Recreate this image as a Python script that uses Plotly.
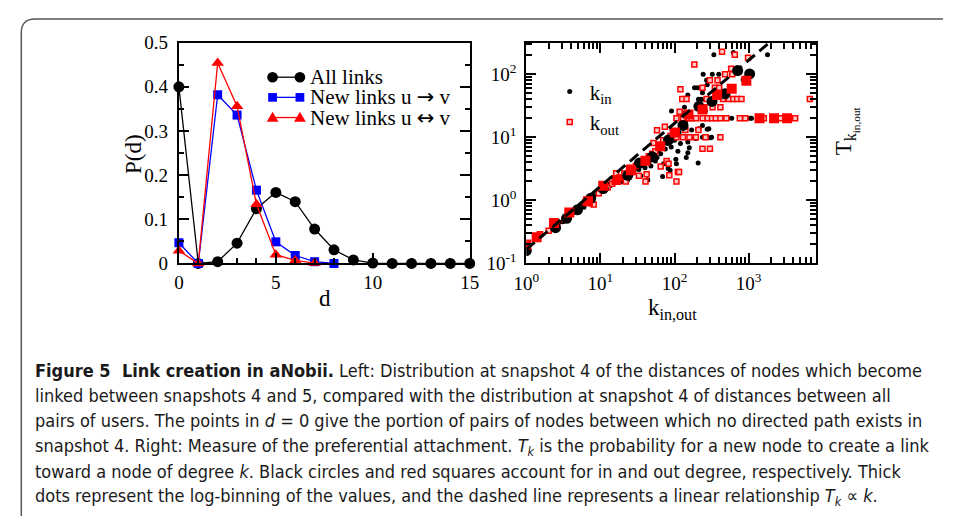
import plotly.graph_objects as go

W, H = 953, 527

# ---------------- Left panel data ----------------
d_all = list(range(16))
p_all = [0.400, 0.0, 0.004, 0.046, 0.124, 0.161, 0.140, 0.078, 0.031, 0.008, 0.001, 0.0, 0.0, 0.0, 0.0, 0.0]
d_dir = [0, 1, 2, 3, 4, 5, 6, 7, 8]
p_dir = [0.047, 0.0, 0.382, 0.336, 0.166, 0.049, 0.018, 0.004, 0.0]
d_bi = [0, 1, 2, 3, 4, 5, 6, 7]
p_bi = [0.029, 0.0, 0.454, 0.356, 0.134, 0.020, 0.007, 0.001]
ARROW = '<span style="font-family:DejaVu Sans">{}</span>'
left_names = ["All links", "New links u " + ARROW.format("\u2192") + " v",
              "New links u " + ARROW.format("\u2194") + " v"]

# ---------------- Right panel data ----------------
kin_k = [1.5, 2.0, 2.3, 2.8, 3.1, 3.8, 4.3, 5.5, 6.0, 6.9, 8.2, 9.3, 10.4, 11.5, 12.5, 13.5, 15.6, 17, 19, 20,
         23.3, 25, 28.5, 30, 33, 35, 38, 40, 42.7, 43.6, 45, 48, 50, 55, 58, 60, 65, 69, 71, 75,
         80, 82, 87, 90, 91, 95, 100, 104, 106, 111, 115, 120, 130, 132, 136, 140, 144, 151, 151, 151,
         158, 160, 170, 186, 186, 194, 200, 204, 204, 208, 210, 214, 230, 238, 238, 238, 243, 260, 270, 276,
         276, 276, 290, 300, 305, 316, 323, 339, 395, 480, 520, 590, 620, 842, 1050, 1090, 1795]
kin_T = [0.27, 0.32, 0.39, 0.45, 0.46, 0.58, 0.66, 0.83, 0.78, 0.93, 1.2, 1.35, 1.4, 1.6, 1.8, 1.7, 1.9, 2.2, 2.0, 2.4,
         2.1, 2.5, 3.0, 3.4, 3.1, 2.46, 3.6, 3.3, 2.1, 2.1, 4.0, 3.5, 5.5, 4.2, 4.8, 6.2, 5.5, 2.4, 3.8, 6.5,
         8.0, 3.2, 3.0, 7.0, 26, 10, 9.0, 4.5, 3.8, 6.0, 12, 8.0, 15, 24, 30, 18, 4.8, 5.7, 8.4, 47,
         6.8, 22, 13, 9.8, 61, 9.6, 30, 13.4, 61, 3.9, 40, 13.7, 40, 10, 15.4, 51, 100, 26, 80, 13.4,
         10, 68, 13.7, 20, 9.8, 10, 100, 204, 100, 20, 20, 20, 220, 82, 20, 20, 204]

kout_k = [1.53, 2.0, 2.6, 3.3, 4.2, 5.0, 6.3, 7.5, 8.1, 9.5, 11, 12.5, 14.4, 16.3, 18, 21, 22, 24.6, 27, 30,
          33, 36, 40.6, 42, 45, 50, 52, 55, 58, 62, 65, 70, 74, 78, 83, 85, 88, 95, 106, 106,
          106, 111, 115, 117, 120, 127, 130, 130, 140, 145, 155, 159, 170, 185, 194, 195, 204, 210, 238, 238,
          240, 251, 262, 270, 280, 300, 300, 320, 326, 340, 350, 360, 380, 400, 415, 415, 415, 437, 450, 480,
          500, 540, 580, 600, 620, 650, 700, 760, 800, 900, 980, 1600, 2700, 4240, 6680]
kout_T = [0.29, 0.33, 0.42, 0.50, 0.66, 0.75, 0.95, 0.90, 0.86, 1.3, 1.5, 1.6, 1.83, 2.7, 2.3, 2.67, 2.0, 3.3, 2.9, 3.5,
          2.46, 4.0, 2.0, 2.6, 5.0, 5.5, 8.1, 6.0, 12.9, 7.0, 3.45, 9.0, 14.7, 4.2, 3.8, 2.5, 10.5, 12, 2.0, 10,
          20, 2.83, 2.83, 25.4, 57.5, 40.6, 10, 20, 13, 40.6, 20, 10, 20, 143, 10, 20, 30, 13, 6.6, 61,
          20, 30, 10, 40.6, 20, 6.6, 80, 20, 30, 40.6, 61, 20, 80, 61, 10, 30, 20, 226, 40.6, 100,
          20, 40.6, 122, 100, 40.6, 204, 40.6, 20, 40.6, 20, 182, 20, 20, 20, 40.6]

bin_in_k = [1.0, 2.48, 3.5, 4.9, 7.4, 10.9, 23.4, 33.6, 50, 83, 130, 213, 320, 480, 710, 1030]
bin_in_T = [0.16, 0.37, 0.52, 0.71, 1.08, 1.54, 2.5, 3.9, 4.9, 9.1, 15.4, 31, 37, 49, 114, 101]
bin_out_k = [1.0, 1.38, 2.36, 3.8, 6.8, 10.9, 16.4, 25.7, 40.5, 64, 101, 154, 238, 375, 590, 930, 1400, 2200, 3300]
bin_out_T = [0.20, 0.26, 0.44, 0.64, 0.97, 1.71, 2.1, 3.0, 4.26, 7.2, 11.9, 23, 27.6, 46.7, 59, 79, 20, 20, 20]

lin_k = [1.0, 1800]
lin_T = [0.167, 300]

# tick labels
left_xticks = [0, 5, 10, 15]
left_yticks = [0, 0.1, 0.2, 0.3, 0.4, 0.5]
right_xticks = [1, 10, 100, 1000]
right_xlabels = ["10<sup>0</sup>", "10<sup>1</sup>", "10<sup>2</sup>", "10<sup>3</sup>"]
right_yticks = [0.1, 1, 10, 100]
right_ylabels = ["10<sup>-1</sup>", "10<sup>0</sup>", "10<sup>1</sup>", "10<sup>2</sup>"]

SERIF = "Liberation Serif"
fig = go.Figure()

fig.add_trace(go.Scatter(x=d_all, y=p_all, mode="lines+markers", name="All links", showlegend=False,
                         line=dict(color="black", width=1.3),
                         marker=dict(symbol="circle", size=11, color="black"),
                         xaxis="x", yaxis="y", cliponaxis=False))
fig.add_trace(go.Scatter(x=d_dir, y=p_dir, mode="lines+markers", name="New links u \u2192 v", showlegend=False,
                         line=dict(color="#0000ff", width=1.3),
                         marker=dict(symbol="square", size=9, color="#0000ff"),
                         xaxis="x", yaxis="y", cliponaxis=False))
fig.add_trace(go.Scatter(x=d_bi, y=p_bi, mode="lines+markers", name="New links u \u2194 v", showlegend=False,
                         line=dict(color="#ff0000", width=1.3),
                         marker=dict(symbol="triangle-up", size=11, color="#ff0000"),
                         xaxis="x", yaxis="y", cliponaxis=False))

# right panel
fig.add_trace(go.Scatter(x=kin_k, y=kin_T, mode="markers", name="k<sub>in</sub>",
                         marker=dict(symbol="circle", size=5, color="black"),
                         xaxis="x2", yaxis="y2", legend="legend2"))
fig.add_trace(go.Scatter(x=kout_k, y=kout_T, mode="markers", name="k<sub>out</sub>",
                         marker=dict(symbol="square", size=5, color="#ffc8c8",
                                     line=dict(color="#ff0000", width=1.5)),
                         xaxis="x2", yaxis="y2", legend="legend2"))
fig.add_trace(go.Scatter(x=bin_in_k, y=bin_in_T, mode="markers", showlegend=False,
                         marker=dict(symbol="circle", size=11, color="black"),
                         xaxis="x2", yaxis="y2"))
fig.add_trace(go.Scatter(x=bin_out_k, y=bin_out_T, mode="markers", showlegend=False,
                         marker=dict(symbol="square", size=10, color="#ff0000"),
                         xaxis="x2", yaxis="y2"))
fig.add_trace(go.Scatter(x=lin_k, y=lin_T, mode="lines", showlegend=False,
                         line=dict(color="black", width=3, dash="11px,6px"),
                         xaxis="x2", yaxis="y2"))


def px_x(p):
    return p / W


def px_y(p):
    return 1 - p / H


axis_common = dict(showline=True, linecolor="black", linewidth=2,
                   ticks="inside", tickcolor="black", tickwidth=1.5, ticklen=10,
                   showgrid=False, zeroline=False,
                   tickfont=dict(family=SERIF, size=19, color="black"))

fig.update_layout(
    width=W, height=H, margin=dict(l=0, r=0, t=0, b=0), autosize=False,
    paper_bgcolor="white", plot_bgcolor="white",
    xaxis=dict(domain=[px_x(170), px_x(468)], range=[0, 15], tickvals=left_xticks, mirror=True,
               minor=dict(dtick=1, tick0=0, ticks="inside", ticklen=5, tickcolor="black", tickwidth=1.5),
               anchor="y", ticklabelstandoff=1, **axis_common),
    yaxis=dict(domain=[px_y(264), px_y(34)], range=[0, 0.5], tickvals=left_yticks, mirror="ticks",
               minor=dict(dtick=0.05, tick0=0, ticks="inside", ticklen=5, tickcolor="black", tickwidth=1.5),
               anchor="x", ticklabelstandoff=5, **axis_common),
    xaxis2=dict(domain=[px_x(526), px_x(823)], type="log", range=[0, 3.91], mirror="ticks",
                tickvals=right_xticks, ticktext=right_xlabels,
                minor=dict(tickvals=[m * 10 ** e for e in range(0, 4) for m in range(2, 10)],
                           ticks="inside", ticklen=6, tickcolor="black", tickwidth=1.5),
                anchor="y2", ticklabelstandoff=2, **axis_common),
    yaxis2=dict(domain=[px_y(264), px_y(34)], type="log", range=[-1, 2.5], mirror="ticks",
                tickvals=right_yticks, ticktext=right_ylabels,
                minor=dict(tickvals=[m * 10 ** e for e in range(-1, 3) for m in range(2, 10)],
                           ticks="inside", ticklen=6, tickcolor="black", tickwidth=1.5),
                anchor="x2", ticklabelstandoff=4, **axis_common),
    legend2=dict(x=px_x(550), y=px_y(64), xanchor="left", yanchor="top",
                 bgcolor="rgba(0,0,0,0)", tracegroupgap=0, itemwidth=30,
                 font=dict(family=SERIF, size=21, color="black")),
    showlegend=True,
)

annotations = []
shapes = []
# custom legend for left panel (line with marker at both ends, like the original)
leg_rows = [70, 91, 112]
leg_colors = ["black", "#0000ff", "#ff0000"]
leg_symbols = ["circle", "square", "triangle"]
lx0, lx1 = 266, 294
for name, row, col, sym in zip(left_names, leg_rows, leg_colors, leg_symbols):
    shapes.append(dict(type="line", xref="paper", yref="paper", x0=px_x(lx0), x1=px_x(lx1),
                       y0=px_y(row), y1=px_y(row), line=dict(color=col, width=1.3)))
    for cx in (lx0, lx1):
        if sym == "circle":
            shapes.append(dict(type="circle", xref="paper", yref="paper", x0=px_x(cx - 5.5), x1=px_x(cx + 5.5),
                               y0=px_y(row + 5.5), y1=px_y(row - 5.5), fillcolor=col, line=dict(width=0)))
        elif sym == "square":
            shapes.append(dict(type="rect", xref="paper", yref="paper", x0=px_x(cx - 4.5), x1=px_x(cx + 4.5),
                               y0=px_y(row + 4.5), y1=px_y(row - 4.5), fillcolor=col, line=dict(width=0)))
        else:
            p = (f"M {px_x(cx - 6)},{px_y(row + 4.5)} L {px_x(cx + 6)},{px_y(row + 4.5)} "
                 f"L {px_x(cx)},{px_y(row - 6)} Z")
            shapes.append(dict(type="path", xref="paper", yref="paper", path=p, fillcolor=col,
                               line=dict(width=0)))
    annotations.append(dict(x=px_x(303), y=px_y(row), xref="paper", yref="paper", text=name,
                            xanchor="left", yanchor="middle", showarrow=False, borderpad=0,
                            font=dict(family=SERIF, size=21, color="black")))

# axis titles
annotations.append(dict(x=px_x(123), y=px_y(150), xref="paper", yref="paper", text="P(d)",
                        textangle=-90, xanchor="center", yanchor="middle", showarrow=False,
                        font=dict(family=SERIF, size=23, color="black")))
annotations.append(dict(x=px_x(320), y=px_y(300), xref="paper", yref="paper", text="d",
                        xanchor="center", yanchor="middle", showarrow=False,
                        font=dict(family=SERIF, size=23, color="black")))
annotations.append(dict(x=px_x(676), y=px_y(311), xref="paper", yref="paper", text="k<sub>in,out</sub>",
                        xanchor="center", yanchor="middle", showarrow=False,
                        font=dict(family=SERIF, size=23, color="black")))
annotations.append(dict(x=px_x(854), y=px_y(126), xref="paper", yref="paper",
                        text="T<sub>k<sub>in,out</sub></sub>",
                        textangle=-90, xanchor="center", yanchor="middle", showarrow=False,
                        font=dict(family=SERIF, size=23, color="black")))

# caption
CAP = "DejaVu Sans Condensed, Roboto Condensed, Open Sans"
caption_lines = [
    "<b>Figure 5  Link creation in aNobii.</b> Left: Distribution at snapshot 4 of the distances of nodes which become",
    "linked between snapshots 4 and 5, compared with the distribution at snapshot 4 of distances between all",
    "pairs of users. The points in <i>d</i> = 0 give the portion of pairs of nodes between which no directed path exists in",
    "snapshot 4. Right: Measure of the preferential attachment. <i>T<sub>k</sub></i> is the probability for a new node to create a link",
    "toward a node of degree <i>k</i>. Black circles and red squares account for in and out degree, respectively. Thick",
    "dots represent the log-binning of the values, and the dashed line represents a linear relationship <i>T<sub>k</sub></i> \u221d <i>k</i>.",
]
caption_y = [375, 402, 428, 455, 481, 507]
for txt, yy in zip(caption_lines, caption_y):
    annotations.append(dict(x=px_x(20), y=px_y(yy), xref="paper", yref="paper", text=txt,
                            xanchor="left", yanchor="middle", showarrow=False, align="left",
                            font=dict(family=CAP, size=18, color="#1a1a1a")))

# outer frame with rounded top-left corner
x0, y0, r = 8.5, 9.5, 14
path = (f"M {px_x(W)},{px_y(y0)} L {px_x(x0 + r)},{px_y(y0)} "
        f"Q {px_x(x0)},{px_y(y0)} {px_x(x0)},{px_y(y0 + r)} L {px_x(x0)},{px_y(H)}")
shapes.append(dict(type="path", path=path, xref="paper", yref="paper",
                   line=dict(color="#555555", width=1.5)))

fig.update_layout(annotations=annotations, shapes=shapes)

fig.write_html("out.html",
               post_script="document.body.style.margin='0';document.body.style.overflow='hidden';")
